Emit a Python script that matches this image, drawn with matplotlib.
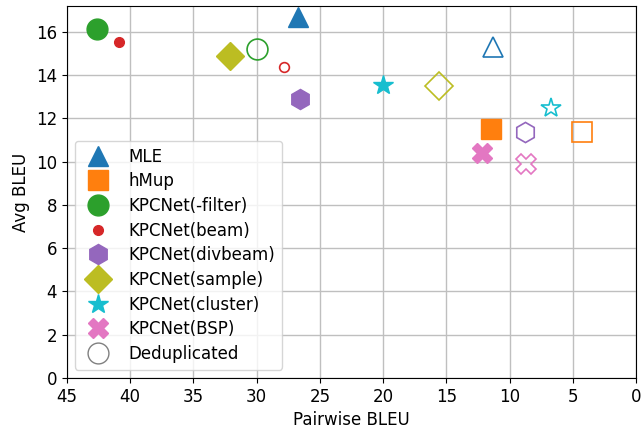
import matplotlib
matplotlib.use("Agg")
import matplotlib.pyplot as plt
from matplotlib.lines import Line2D

names = ["MLE", "hMup", "KPCNet(-filter)", "KPCNet(beam)", "KPCNet(divbeam)",
         "KPCNet(sample)", "KPCNet(cluster)", "KPCNet(BSP)"]
markers = ["^", "s", "o", "o", "h", "D", "*", "X"]
colors = ["#1f77b4", "#ff7f0e", "#2ca02c", "#d62728", "#9467bd",
          "#bcbd22", "#17becf", "#e377c2"]
sizes = [15, 14.5, 15, 7, 14.5, 14, 14.5, 14.5]

# (pairwise BLEU, avg BLEU) original
orig_x = [26.7, 11.5, 42.6, 40.9, 26.6, 32.1, 20.0, 12.2]
orig_y = [16.7, 11.5, 16.15, 15.55, 12.9, 14.9, 13.55, 10.4]
# deduplicated
dedup_x = [11.3, 4.3, 30.0, 27.8, 8.8, 15.6, 6.7, 8.7]
dedup_y = [15.3, 11.35, 15.2, 14.4, 11.35, 13.5, 12.5, 9.9]

plt.rcParams['font.family'] = ['DejaVu Sans']
fig = plt.figure(figsize=(6.42, 4.28), dpi=100)
ax = fig.add_axes([0.104, 0.117, 0.887, 0.869])

handles = []
for i in range(len(names)):
    ax.plot(orig_x[i], orig_y[i], marker=markers[i], color=colors[i],
            markersize=sizes[i], linestyle='none', zorder=3)
    ax.plot(dedup_x[i], dedup_y[i], marker=markers[i], color=colors[i],
            markerfacecolor='none', markersize=sizes[i], linestyle='none',
            markeredgewidth=1.2, zorder=3)
    handles.append(Line2D([], [], marker=markers[i], color=colors[i],
                          markersize=sizes[i], linestyle='none', label=names[i]))
handles.append(Line2D([], [], marker='o', color='gray', markerfacecolor='none',
                      markersize=15, linestyle='none', label='Deduplicated'))

ax.set_xlim(45, 0)
ax.set_ylim(0, 17.2)
ax.set_xticks(range(45, -1, -5))
ax.set_yticks(range(0, 17, 2))
ax.grid(True, color='#bfbfbf', linewidth=1)
ax.set_axisbelow(True)
ax.tick_params(labelsize=12)
ax.set_xlabel("Pairwise BLEU", fontsize=12)
ax.set_ylabel("Avg BLEU", fontsize=12)
ax.legend(handles=handles, loc='lower left', fontsize=12, framealpha=0.8,
          numpoints=1, labelspacing=0.4)

fig.savefig("out.png", dpi=100)
